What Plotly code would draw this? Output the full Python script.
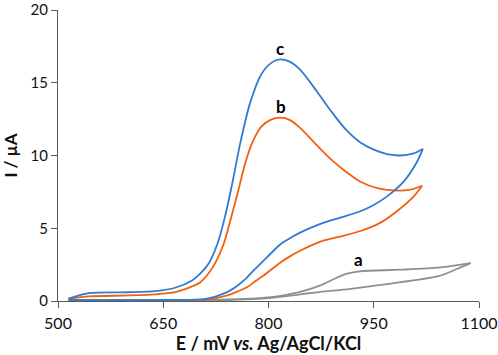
import plotly.graph_objects as go

# Curve c (blue)
E_c_fwd = [515, 544, 600, 639, 667, 691, 703, 715, 727, 738, 748, 760, 774, 790, 805, 816, 830, 845, 869, 890, 910, 931, 950, 969, 988, 1007, 1020]
I_c_fwd = [0.16, 0.54, 0.6, 0.68, 0.91, 1.41, 1.9, 2.6, 3.9, 5.8, 8.0, 10.9, 13.65, 15.6, 16.4, 16.6, 16.45, 15.9, 14.4, 13.0, 11.8, 10.9, 10.4, 10.1, 10.0, 10.15, 10.45]
E_c_rev = [1020, 1011.7, 992.6, 969, 950, 931, 900, 874, 845, 830, 817, 805, 793, 781, 769.5, 757, 745.7, 733, 722, 710, 695, 650, 580, 515]
I_c_rev = [10.45, 9.57, 8.2, 7.19, 6.6, 6.17, 5.7, 5.3, 4.7, 4.3, 3.9, 3.35, 2.77, 2.2, 1.63, 1.1, 0.73, 0.45, 0.27, 0.15, 0.1, 0.07, 0.06, 0.05]

# Curve b (orange)
E_b_fwd = [515, 544, 600, 639, 667, 691, 703, 713, 724, 736, 746, 757, 767, 778, 790, 803, 817, 830, 845, 869, 890, 910, 931, 955, 978, 1002, 1019]
I_b_fwd = [0.16, 0.32, 0.38, 0.46, 0.61, 1.0, 1.29, 1.8, 2.6, 3.9, 5.6, 7.6, 9.5, 11.0, 12.0, 12.45, 12.6, 12.45, 11.9, 10.7, 9.7, 8.9, 8.2, 7.76, 7.6, 7.65, 7.92]
E_b_rev = [1019, 1007, 983, 959, 931, 900, 874, 845, 830, 817, 805, 793, 781, 769.5, 757, 745.7, 733, 722, 710, 695, 650, 580, 515]
I_b_rev = [7.92, 7.19, 6.17, 5.37, 4.81, 4.4, 4.08, 3.45, 3.05, 2.65, 2.2, 1.75, 1.35, 0.95, 0.68, 0.46, 0.28, 0.16, 0.1, 0.08, 0.06, 0.05, 0.05]

# Curve a (gray)
E_a_fwd = [515, 600, 700, 774, 800, 821, 845, 874, 895, 912, 930, 988, 1045, 1088]
I_a_fwd = [0.08, 0.06, 0.06, 0.16, 0.25, 0.39, 0.62, 1.07, 1.55, 1.88, 2.04, 2.15, 2.31, 2.6]
E_a_rev = [1088, 1068.7, 1045, 988, 917, 869, 845, 800, 750, 700, 600, 515]
I_a_rev = [2.6, 2.2, 1.75, 1.29, 0.84, 0.6, 0.46, 0.2, 0.08, 0.04, 0.03, 0.03]

x_ticks = [500, 650, 800, 950, 1100]
y_ticks = [0, 5, 10, 15, 20]

labels = ["a", "b", "c"]
label_E = [928, 818, 817]
label_I = [2.85, 13.35, 17.35]

COL = {"a": "#8f8f8f", "b": "#f2600f", "c": "#2e7bd0"}

fig = go.Figure()
for name, segs in [("a", [(E_a_fwd, I_a_fwd), (E_a_rev, I_a_rev)]),
                   ("b", [(E_b_fwd, I_b_fwd), (E_b_rev, I_b_rev)]),
                   ("c", [(E_c_fwd, I_c_fwd), (E_c_rev, I_c_rev)])]:
    for xs, ys in segs:
        fig.add_trace(go.Scatter(x=xs, y=ys, mode="lines",
                                 line=dict(color=COL[name], width=1.8, shape="spline", smoothing=0.8),
                                 showlegend=False, hoverinfo="skip"))

for t, ex, iy in zip(labels, label_E, label_I):
    fig.add_annotation(x=ex, y=iy, text="<b>%s</b>" % t, showarrow=False,
                       font=dict(family="Lato", size=17, color="#000"))

axis_common = dict(showgrid=False, zeroline=False, showline=True, linecolor="#595959",
                   linewidth=1.3, ticks="outside", ticklen=6, tickcolor="#595959", tickwidth=1.3,
                   ticklabeloverflow="allow")

fig.update_xaxes(range=[500, 1100], tickvals=x_ticks, ticktext=[str(v) for v in x_ticks],
                 ticklabelstandoff=2, tickfont=dict(family="Lato", size=16, color="#111"),
                 title=dict(text="<b>E / mV <i>vs.</i> Ag/AgCl/KCl</b>", font=dict(family="Lato", size=18, color="#111"), standoff=4),
                 **axis_common)
fig.update_yaxes(range=[0, 20], tickvals=y_ticks, ticktext=[str(v) for v in y_ticks],
                 tickfont=dict(family="Lato", size=15, color="#111"),
                 title=dict(text="<b>I / µA</b>", font=dict(family="Lato", size=17, color="#111"), standoff=10),
                 **axis_common)

fig.update_layout(width=498, height=355, margin=dict(l=58, r=19, t=10, b=54, autoexpand=False),
                  plot_bgcolor="white", paper_bgcolor="white")

fig.write_html("out.html", config={"displayModeBar": False},
               post_script="document.body.style.margin='0';document.body.style.padding='0';")
